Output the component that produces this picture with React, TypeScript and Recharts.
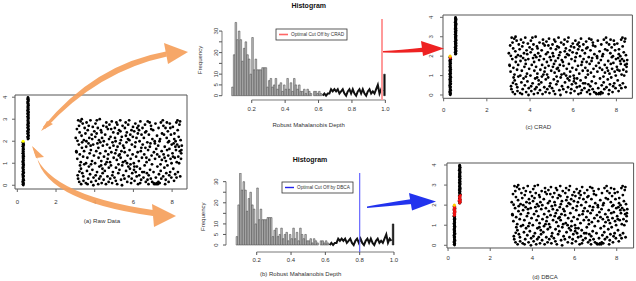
import React from 'react';
import {
  ScatterChart,
  Scatter,
  ComposedChart,
  Bar,
  Line,
  Cell,
  XAxis,
  YAxis,
  ReferenceArea,
  ReferenceLine,
} from 'recharts';

const FONT = '"Liberation Sans", Arial, Helvetica, sans-serif';

type Pt = [number, number];

// thin vertical cluster near x = 0.3 (y from 0 to 2)
const clusterLow: Pt[] = [
  [0.31, 0.01], [0.29, 0.05], [0.32, 0.08], [0.3, 0.14], [0.28, 0.17], [0.33, 0.23], [0.3, 0.26], [0.31, 0.3],
  [0.29, 0.37], [0.32, 0.41], [0.3, 0.44], [0.28, 0.49], [0.31, 0.55], [0.33, 0.58], [0.29, 0.62], [0.3, 0.69],
  [0.32, 0.71], [0.28, 0.78], [0.31, 0.81], [0.3, 0.85], [0.33, 0.92], [0.29, 0.94], [0.31, 0.99], [0.3, 1.05],
  [0.28, 1.08], [0.32, 1.12], [0.3, 1.19], [0.31, 1.22], [0.29, 1.28], [0.33, 1.31], [0.3, 1.35], [0.32, 1.42],
  [0.28, 1.45], [0.31, 1.51], [0.3, 1.54], [0.29, 1.6], [0.32, 1.63], [0.3, 1.67], [0.31, 1.74], [0.28, 1.77],
  [0.33, 1.83], [0.3, 1.86], [0.31, 1.9], [0.29, 1.95],
];

// thin vertical cluster near x = 0.55 (y from 2.1 to 4)
const clusterHigh: Pt[] = [
  [0.55, 2.1], [0.57, 2.14], [0.53, 2.19], [0.56, 2.23], [0.58, 2.27], [0.54, 2.33], [0.55, 2.36], [0.57, 2.41],
  [0.53, 2.45], [0.56, 2.5], [0.58, 2.54], [0.55, 2.58], [0.54, 2.63], [0.57, 2.67], [0.56, 2.72], [0.53, 2.75],
  [0.58, 2.81], [0.55, 2.84], [0.57, 2.88], [0.54, 2.93], [0.56, 2.97], [0.55, 3.02], [0.58, 3.05], [0.53, 3.11],
  [0.56, 3.14], [0.57, 3.19], [0.55, 3.23], [0.54, 3.27], [0.58, 3.31], [0.56, 3.36], [0.53, 3.4], [0.57, 3.44],
  [0.55, 3.49], [0.56, 3.53], [0.54, 3.57], [0.58, 3.62], [0.55, 3.65], [0.57, 3.7], [0.53, 3.74], [0.56, 3.79],
  [0.55, 3.82], [0.58, 3.87], [0.54, 3.91], [0.56, 3.95], [0.55, 3.99],
];

// the broad cloud, x 3..8.5, y 0..3
const cloud: Pt[] = [
  [3.02, 2.15], [3.05, 1.55], [3.08, 2.55], [3.1, 1.2], [3.12, 0.45], [3.15, 2.95], [3.18, 1.85], [3.2, 0.15],
  [3.22, 2.4], [3.24, 0.9], [3.06, 1.5], [3.14, 0.3], [3.19, 2.7], [3.23, 1.4], [3.11, 2.02], [3.21, 0.62],
  [3.27, 2.9], [3.28, 1.05], [3.3, 0.05], [3.32, 2.25], [3.34, 1.7], [3.36, 0.55], [3.38, 2.8], [3.4, 1.3],
  [3.42, 0.2], [3.44, 2.05], [3.46, 0.95], [3.48, 2.6], [3.29, 0.75], [3.35, 1.95], [3.45, 1.55], [3.33, 3.0], [3.41, 0.4],
  [3.52, 2.35], [3.54, 0.1], [3.56, 1.75], [3.58, 2.85], [3.6, 0.65], [3.62, 1.25], [3.64, 2.5], [3.66, 0.3],
  [3.68, 1.9], [3.7, 0.85], [3.72, 2.15], [3.74, 1.45], [3.55, 1.0], [3.63, 0.05], [3.69, 2.7], [3.57, 2.0],
  [3.76, 0.5], [3.78, 2.95], [3.8, 1.6], [3.82, 0.15], [3.84, 2.3], [3.86, 1.1], [3.88, 0.7], [3.9, 2.65],
  [3.92, 1.85], [3.94, 0.35], [3.96, 1.35], [3.98, 2.45], [3.81, 0.95], [3.87, 2.1], [3.93, 0.0], [3.79, 1.8],
  [4.02, 1.0], [4.04, 2.8], [4.06, 0.2], [4.08, 1.55], [4.1, 2.35], [4.12, 0.6], [4.14, 1.9], [4.16, 2.6],
  [4.18, 0.05], [4.2, 1.25], [4.22, 2.05], [4.24, 0.85], [4.05, 0.45], [4.11, 2.95], [4.19, 1.7], [4.23, 0.3], [4.03, 2.2],
  [4.26, 3.0], [4.28, 1.45], [4.3, 0.4], [4.32, 2.5], [4.34, 1.1], [4.36, 0.1], [4.38, 2.15], [4.4, 0.75],
  [4.42, 1.8], [4.44, 2.7], [4.46, 0.25], [4.48, 1.3], [4.29, 1.95], [4.35, 2.4], [4.41, 0.55], [4.47, 2.0], [4.33, 0.9],
  [4.52, 0.65], [4.54, 2.3], [4.56, 1.55], [4.58, 0.05], [4.6, 2.85], [4.62, 1.05], [4.64, 1.85], [4.66, 0.4],
  [4.68, 2.55], [4.7, 1.4], [4.72, 0.15], [4.74, 2.1], [4.55, 0.95], [4.61, 2.65], [4.67, 1.2], [4.73, 0.8],
  [4.76, 2.75], [4.78, 1.7], [4.8, 0.3], [4.82, 2.2], [4.84, 0.9], [4.86, 1.5], [4.88, 2.9], [4.9, 0.1],
  [4.92, 1.95], [4.94, 0.6], [4.96, 2.4], [4.98, 1.25], [4.79, 1.05], [4.85, 2.55], [4.91, 0.45], [4.97, 1.8],
  [5.02, 0.35], [5.04, 2.6], [5.06, 1.45], [5.08, 2.0], [5.1, 0.8], [5.12, 2.85], [5.14, 1.15], [5.16, 0.05],
  [5.18, 1.75], [5.2, 2.35], [5.22, 0.55], [5.24, 1.35], [5.05, 2.15], [5.11, 1.6], [5.17, 2.75], [5.23, 0.95], [5.09, 0.2],
  [5.26, 2.5], [5.28, 0.7], [5.3, 1.9], [5.32, 2.95], [5.34, 1.25], [5.36, 0.25], [5.38, 1.55], [5.4, 2.2],
  [5.42, 0.9], [5.44, 2.7], [5.46, 1.05], [5.48, 0.45], [5.29, 1.4], [5.35, 2.05], [5.41, 0.0], [5.47, 1.8], [5.33, 2.45],
  [5.52, 1.7], [5.54, 0.3], [5.56, 2.6], [5.58, 1.1], [5.6, 2.85], [5.62, 0.65], [5.64, 1.95], [5.66, 2.4],
  [5.68, 0.15], [5.7, 1.35], [5.72, 2.1], [5.74, 0.85], [5.55, 1.5], [5.61, 2.25], [5.67, 1.0], [5.73, 2.75],
  [5.76, 0.4], [5.78, 2.95], [5.8, 1.6], [5.82, 0.75], [5.84, 2.3], [5.86, 1.2], [5.88, 0.1], [5.9, 2.5],
  [5.92, 1.85], [5.94, 0.55], [5.96, 1.4], [5.98, 2.65], [5.79, 2.05], [5.85, 0.95], [5.91, 0.3], [5.97, 2.2],
  [6.02, 1.0], [6.04, 2.45], [6.06, 0.2], [6.08, 1.75], [6.1, 2.8], [6.12, 0.6], [6.14, 1.3], [6.16, 2.15],
  [6.18, 0.85], [6.2, 2.6], [6.22, 1.5], [6.24, 0.05], [6.05, 0.85], [6.11, 1.95], [6.17, 0.4], [6.23, 2.35], [6.03, 0.7],
  [6.26, 2.7], [6.28, 1.1], [6.3, 0.45], [6.32, 2.0], [6.34, 0.75], [6.36, 2.9], [6.38, 1.55], [6.4, 0.25],
  [6.42, 2.3], [6.44, 1.25], [6.46, 0.6], [6.48, 1.85], [6.29, 2.5], [6.35, 0.1], [6.41, 1.7], [6.47, 2.6],
  [6.52, 0.35], [6.54, 2.15], [6.56, 1.4], [6.58, 0.9], [6.6, 2.75], [6.62, 1.7], [6.64, 0.15], [6.66, 2.45],
  [6.68, 1.05], [6.7, 0.55], [6.72, 1.95], [6.74, 2.9], [6.55, 0.6], [6.61, 2.4], [6.67, 1.25], [6.73, 0.25],
  [6.76, 1.6], [6.78, 0.05], [6.8, 2.3], [6.82, 1.15], [6.84, 2.85], [6.86, 0.7], [6.88, 1.9], [6.9, 0.3],
  [6.92, 2.55], [6.94, 1.35], [6.96, 0.95], [6.98, 2.1], [6.79, 0.45], [6.85, 1.75], [6.91, 2.7], [6.97, 0.15],
  [7.02, 2.5], [7.04, 0.6], [7.06, 1.5], [7.08, 0.05], [7.1, 2.0], [7.12, 1.2], [7.14, 2.8], [7.16, 0.35],
  [7.18, 1.65], [7.2, 0.1], [7.22, 2.25], [7.24, 0.85], [7.05, 0.1], [7.11, 1.9], [7.17, 0.05], [7.23, 1.4],
  [7.26, 0.05], [7.28, 1.8], [7.3, 2.6], [7.32, 0.5], [7.34, 1.3], [7.36, 0.1], [7.38, 2.1], [7.4, 0.95],
  [7.42, 2.85], [7.44, 0.3], [7.46, 1.55], [7.48, 2.35], [7.29, 0.15], [7.35, 2.0], [7.41, 0.65], [7.47, 1.15],
  [7.52, 2.95], [7.54, 0.4], [7.56, 1.4], [7.58, 2.3], [7.6, 0.8], [7.62, 1.75], [7.64, 0.05], [7.66, 2.6],
  [7.68, 1.1], [7.7, 0.55], [7.72, 2.15], [7.74, 1.6], [7.55, 2.7], [7.61, 1.25], [7.67, 0.25], [7.73, 2.85],
  [7.76, 0.9], [7.78, 2.45], [7.8, 1.35], [7.82, 0.15], [7.84, 2.0], [7.86, 1.65], [7.88, 2.8], [7.9, 0.6],
  [7.92, 1.2], [7.94, 2.3], [7.96, 0.35], [7.98, 1.85], [7.79, 1.95], [7.85, 0.45], [7.91, 2.6], [7.97, 1.0],
  [8.02, 1.45], [8.04, 2.65], [8.06, 0.75], [8.08, 1.9], [8.1, 0.2], [8.12, 2.35], [8.14, 1.25], [8.16, 0.5],
  [8.18, 2.0], [8.2, 1.6], [8.22, 2.85], [8.24, 1.05], [8.05, 1.3], [8.11, 2.1], [8.17, 1.75], [8.23, 0.35],
  [8.26, 1.85], [8.28, 2.95], [8.3, 0.6], [8.32, 1.3], [8.34, 2.2], [8.36, 1.0], [8.38, 2.75], [8.4, 1.55],
  [8.42, 0.4], [8.44, 2.05], [8.46, 1.2], [8.48, 1.6], [8.29, 2.5], [8.35, 1.75], [8.41, 2.9], [8.47, 1.45], [8.5, 1.8],
];

// highlighted points
const seedPoint: Pt[] = [[0.3, 2.0]];
const cradFlagged: Pt[] = [[0.31, 1.92]];
const dbcaFlagged: Pt[] = [
  [0.3, 1.5], [0.32, 1.56], [0.29, 1.62], [0.33, 1.68], [0.3, 1.74], [0.31, 1.8], [0.29, 1.86], [0.32, 1.92],
  [0.55, 2.12], [0.58, 2.18], [0.53, 2.24], [0.57, 2.3], [0.56, 2.36], [0.54, 2.42], [0.58, 2.48],
];

// histogram of robust Mahalanobis depth, bins of 0.01
const binStart = [
  0.08, 0.09, 0.1, 0.11, 0.12, 0.13, 0.14, 0.15, 0.16, 0.17, 0.18, 0.19, 0.2, 0.21, 0.22, 0.23, 0.24, 0.25,
  0.26, 0.27, 0.28, 0.29, 0.3, 0.31, 0.32, 0.33, 0.34, 0.35, 0.36, 0.37, 0.38, 0.39, 0.4, 0.41, 0.42, 0.43,
  0.44, 0.45, 0.46, 0.47, 0.48, 0.49, 0.5, 0.51, 0.52, 0.53, 0.54, 0.55, 0.56, 0.57, 0.58, 0.59, 0.6, 0.61,
];
const binCount = [
  4, 19, 34, 26, 30, 26, 16, 22, 25, 19, 17, 10, 27, 12, 17, 12, 12, 12,
  13, 13, 13, 4, 7, 8, 4, 5, 8, 3, 5, 6, 2, 5, 3, 8, 3, 6,
  2, 8, 5, 3, 5, 2, 2, 3, 1, 3, 2, 1, 0, 2, 2, 1, 2, 1,
];
// upper tail drawn as a thick polygon
const tailDepth = [
  0.625, 0.635, 0.645, 0.655, 0.665, 0.675, 0.685, 0.695, 0.705, 0.715, 0.725, 0.735, 0.745,
  0.755, 0.765, 0.775, 0.785, 0.795, 0.805, 0.815, 0.825, 0.835, 0.845, 0.855, 0.865, 0.875,
  0.885, 0.895, 0.905, 0.915, 0.925, 0.935, 0.945, 0.955, 0.965, 0.975, 0.985,
];
const tailCount = [
  0, 1, 0, 1, 1, 3, 2, 3, 2, 3, 1, 2, 3,
  1, 0, 2, 3, 1, 3, 1, 0, 2, 3, 1, 3, 1,
  0, 2, 3, 1, 2, 1, 3, 5, 1, 3, 2,
];
const spikeStart = [0.99];
const spikeCount = [10];

const histRows = [
  ...binStart.map((d, i) => ({ x: d + 0.005, freq: binCount[i] as number | undefined, tail: undefined as number | undefined, spike: false })),
  ...tailDepth.map((d, i) => ({ x: d, freq: undefined, tail: tailCount[i], spike: false })),
  ...spikeStart.map((d, i) => ({ x: d + 0.005, freq: spikeCount[i], tail: undefined, spike: true })),
];

const toXY = (pts: Pt[]) => pts.map(([x, y]) => ({ x, y }));

const yTick = (gap: number, ts: number, hide: number[] = []) => (props: any) => {
  const { x, y, payload } = props;
  if (hide.includes(payload.value)) return <g />;
  const bx = x + ts - gap + 2.1;
  return (
    <text x={bx} y={y} transform={`rotate(-90 ${bx} ${y})`} textAnchor="middle" fontSize={6} fill="#333" fontFamily={FONT}>
      {payload.value}
    </text>
  );
};

const xTick = (gap: number, ts: number, fmt: (v: number) => string = (v) => String(v)) => (props: any) => {
  const { x, y, payload } = props;
  return (
    <text x={x} y={y - ts + gap + 2.1} textAnchor="middle" fontSize={6} fill="#333" fontFamily={FONT}>
      {fmt(payload.value)}
    </text>
  );
};

const dot = (color: string, r = 1.4) => (p: any) => <circle cx={p.cx} cy={p.cy} r={r} fill={color} />;

interface ScatterPanelProps {
  box: [number, number, number, number];
  xDomain: [number, number];
  yDomain: [number, number];
  yGap: number;
  xGap: number;
  flagged: Pt[];
  seedColor: string;
}

function ScatterPanel({ box, xDomain, yDomain, yGap, xGap, flagged, seedColor }: ScatterPanelProps) {
  const [l, t, r, b] = box;
  const yw = 16;
  const pad = 3;
  const xh = 18;
  return (
    <div style={{ position: 'absolute', left: l - yw, top: t - pad }}>
      <ScatterChart width={r - l + yw + pad} height={b - t + pad + xh} margin={{ top: pad, right: pad, left: 0, bottom: 0 }}>
        <XAxis type="number" dataKey="x" domain={xDomain} ticks={[0, 2, 4, 6, 8]} allowDataOverflow interval={0}
          axisLine={false} tickSize={3} tickMargin={0} tickLine={{ stroke: '#666' }} tick={xTick(xGap, 3)} height={xh} />
        <YAxis type="number" dataKey="y" domain={yDomain} ticks={[0, 1, 2, 3, 4]} allowDataOverflow interval={0}
          axisLine={false} tickSize={3} tickMargin={0} tickLine={{ stroke: '#666' }} tick={yTick(yGap, 3)} width={yw} />
        <ReferenceArea x1={xDomain[0]} x2={xDomain[1]} y1={yDomain[0]} y2={yDomain[1]} fill="none" fillOpacity={0}
          stroke="#555" strokeWidth={1} ifOverflow="visible" />
        <Scatter data={toXY(cloud)} shape={dot('#000')} isAnimationActive={false} />
        <Scatter data={toXY(clusterLow)} shape={dot('#000')} isAnimationActive={false} />
        <Scatter data={toXY(clusterHigh)} shape={dot('#000')} isAnimationActive={false} />
        <Scatter data={toXY(flagged)} shape={dot('#ee1111', 1.5)} isAnimationActive={false} />
        <Scatter data={toXY(seedPoint)} shape={dot(seedColor, 1.6)} isAnimationActive={false} />
      </ScatterChart>
    </div>
  );
}

interface HistPanelProps {
  left: number;
  top: number;
  plot: [number, number, number, number];
  xDomain: [number, number];
  yDomain: [number, number];
  cut: number;
  cutColor: string;
  cutWidth: number;
  yGap: number;
  xGap: number;
}

function HistPanel({ left, top, plot, xDomain, yDomain, cut, cutColor, cutWidth, yGap, xGap }: HistPanelProps) {
  const [l, t, r, b] = plot;
  const xh = 20;
  return (
    <div style={{ position: 'absolute', left, top }}>
      <ComposedChart data={histRows} width={r - left + 3} height={b - top + xh + 3}
        margin={{ top: t - top, right: 3, left: 0, bottom: 3 }}>
        <XAxis type="number" dataKey="x" domain={xDomain} ticks={[0.2, 0.4, 0.6, 0.8, 1.0]} allowDataOverflow interval={0}
          axisLine={false} tickSize={3} tickMargin={0} tickLine={{ stroke: '#555' }} tick={xTick(xGap, 3, (v) => v.toFixed(1))} height={xh} />
        <YAxis type="number" domain={yDomain} ticks={[0, 5, 10, 15, 20, 25, 30]} allowDataOverflow interval={0}
          axisLine={false} tickSize={3} tickMargin={0} tickLine={{ stroke: '#555' }} tick={yTick(yGap, 3, [15, 25])} width={l - left} />
        <ReferenceLine segment={[{ x: 0.2, y: yDomain[0] }, { x: 1.0, y: yDomain[0] }]} stroke="#555" strokeWidth={0.8} ifOverflow="visible" />
        <ReferenceLine segment={[{ x: xDomain[0], y: 0 }, { x: xDomain[0], y: 30 }]} stroke="#555" strokeWidth={0.8} ifOverflow="visible" />
        <Bar dataKey="freq" barSize={1.6} stroke="#3a3a3a" strokeWidth={0.5} isAnimationActive={false}>
          {histRows.map((row, i) => (
            <Cell key={i} fill={row.spike ? '#111' : '#c4c4c4'} stroke={row.spike ? '#111' : '#3a3a3a'} />
          ))}
        </Bar>
        <Line dataKey="tail" type="linear" stroke="#111" strokeWidth={2} dot={false} isAnimationActive={false} />
        <ReferenceLine x={cut} stroke={cutColor} strokeWidth={cutWidth} ifOverflow="visible" />
      </ComposedChart>
    </div>
  );
}

const txt = { fontFamily: FONT, fill: '#333' };

export default function App() {
  return (
    <div style={{ position: 'absolute', left: 0, top: 0, width: 636, height: 281, background: '#fff', overflow: 'hidden' }}>
      <ScatterPanel box={[15, 95, 187, 189]} xDomain={[-0.12, 8.77]} yDomain={[-0.17, 4.1]} yGap={10} xGap={13}
        flagged={[]} seedColor="#ffff00" />
      <ScatterPanel box={[443.3, 15, 632.7, 98.3]} xDomain={[-0.03, 8.74]} yDomain={[-0.17, 4.12]} yGap={11.6} xGap={11.7}
        flagged={cradFlagged} seedColor="#ffcc00" />
      <ScatterPanel box={[446.7, 162.7, 633.3, 247.7]} xDomain={[-0.05, 8.8]} yDomain={[-0.135, 4.1]} yGap={13} xGap={10.3}
        flagged={dbcaFlagged} seedColor="#ffcc00" />

      <HistPanel left={190} top={0} plot={[222, 19, 386.7, 100]} xDomain={[0.022, 1.008]} yDomain={[-2, 35.6]}
        cut={0.98} cutColor="#ff9a9a" cutWidth={2} yGap={6} xGap={9} />
      <HistPanel left={190} top={145} plot={[226, 173, 397, 252]} xDomain={[0.021, 1.0175]} yDomain={[-3.3, 34.1]}
        cut={0.8} cutColor="#6666ff" cutWidth={1.2} yGap={10} xGap={8} />

      <svg width={636} height={281} style={{ position: 'absolute', left: 0, top: 0, pointerEvents: 'none' }}>
        {/* titles and labels */}
        <text x={308.7} y={7.5} textAnchor="middle" fontSize={7} fontWeight="bold" {...txt} fill="#111">Histogram</text>
        <text x={310} y={161.5} textAnchor="middle" fontSize={7} fontWeight="bold" {...txt} fill="#111">Histogram</text>
        <text x={308.7} y={127} textAnchor="middle" fontSize={6} {...txt}>Robust Mahalanobis Depth</text>
        <text x={300.7} y={275.5} textAnchor="middle" fontSize={6} {...txt}>(b) Robust Mahalanobis Depth</text>
        <text x={202.1} y={60} transform="rotate(-90 202.1 60)" textAnchor="middle" fontSize={6} {...txt}>Frequency</text>
        <text x={205.4} y={216.7} transform="rotate(-90 205.4 216.7)" textAnchor="middle" fontSize={6} {...txt}>Frequency</text>
        <text x={102} y={222.5} textAnchor="middle" fontSize={6.2} {...txt}>(a) Raw Data</text>
        <text x={538.3} y={128.8} textAnchor="middle" fontSize={6} {...txt}>(c) CRAD</text>
        <text x={545} y={278.8} textAnchor="middle" fontSize={6} {...txt}>(d) DBCA</text>

        {/* legends */}
        <rect x={276} y={29} width={71} height={11} fill="#fff" stroke="#333" strokeWidth={0.8} />
        <line x1={279} x2={288} y1={34.5} y2={34.5} stroke="#ff6666" strokeWidth={1.6} />
        <text x={291} y={36.2} fontSize={4.7} {...txt}>Optimal Cut Off by CRAD</text>
        <rect x={282} y={182} width={71} height={11} fill="#fff" stroke="#333" strokeWidth={0.8} />
        <line x1={285} x2={294} y1={187.5} y2={187.5} stroke="#2222ee" strokeWidth={1.4} />
        <text x={297} y={189.2} fontSize={4.7} {...txt}>Optimal Cut Off by DBCA</text>

        {/* orange arrows from the raw data */}
        <g fill="#f6a05c" opacity={0.92}>
          <path d="M 43 127 Q 95 64 166 51.5 L 167 56.5 Q 98 71 45 129 Z" />
          <path d="M 164 43 L 188 52 L 168 64 Z" />
          <path d="M 41 131 L 53 124 L 47 121 Z" />
          <path d="M 33 147 Q 42 194 153 210 L 153 216 Q 38 200 36 150 Z" />
          <path d="M 152 204 L 176 216 L 154 227 Z" />
          <path d="M 32 146 L 44 157 L 36 158 Z" />
        </g>
        {/* red arrow to CRAD result */}
        <g fill="#ee2222">
          <path d="M 383 51 Q 400 50 424 47.5 L 424 52 Q 400 53 383 52.5 Z" />
          <path d="M 421 41 L 444 48.5 L 423 56 Z" />
        </g>
        {/* blue arrow to DBCA result */}
        <g fill="#2233ee">
          <path d="M 367 206.5 Q 385 203 412 199 L 412 204 Q 390 206 367 208 Z" />
          <path d="M 409 193 L 436 201.5 L 412 210.5 Z" />
        </g>
      </svg>
    </div>
  );
}
